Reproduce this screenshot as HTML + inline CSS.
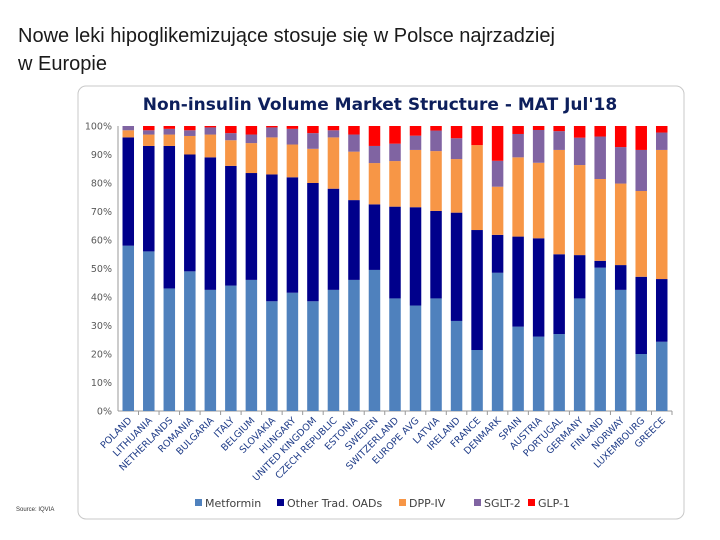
<!DOCTYPE html>
<html><head><meta charset="utf-8">
<style>
body{margin:0;width:720px;height:540px;background:#fff;overflow:hidden;font-family:"Liberation Sans",sans-serif;}
#h{position:absolute;left:18px;top:22px;font-size:20px;line-height:28px;color:#1a1a1a;}
#src{position:absolute;left:16px;top:507px;font-size:6px;color:#333;}
svg{position:absolute;left:0;top:0;}
</style></head><body>
<div id="h">Nowe leki hipoglikemizujące stosuje się w Polsce najrzadziej<br>w Europie</div>
<div id="src">Source: IQVIA</div>
<svg id="c" width="720" height="540">
<rect x="78" y="86" width="606" height="433" rx="8" fill="#fff" stroke="#c8c8c8"/>
<text x="380" y="110" text-anchor="middle" font-size="17" font-weight="bold" fill="#0d1f5c" font-family="DejaVu Sans,sans-serif">Non-insulin Volume Market Structure - MAT Jul'18</text>
</svg>
<script>
const categories=["POLAND","LITHUANIA","NETHERLANDS","ROMANIA","BULGARIA","ITALY","BELGIUM","SLOVAKIA","HUNGARY","UNITED KINGDOM","CZECH REPUBLIC","ESTONIA","SWEDEN","SWITZERLAND","EUROPE AVG","LATVIA","IRELAND","FRANCE","DENMARK","SPAIN","AUSTRIA","PORTUGAL","GERMANY","FINLAND","NORWAY","LUXEMBOURG","GREECE"];
const metformin=[58,56,43,49,42.5,44,46,38.5,41.5,38.5,42.5,46,49.5,39.5,37,39.5,31.6,21.4,48.5,29.6,26.1,27,39.5,50.3,42.5,20,24.3];
const otherOADs=[38,37,50,41,46.5,42,37.5,44.5,40.5,41.5,35.5,28,23,32.2,34.5,30.7,38,42.1,13.3,31.6,34.5,28,15.2,2.4,8.7,27.1,22];
const dppIV=[2.5,4,4,6.5,8,9,10.5,13,11.5,12,18,17,14.5,16,20.1,21,18.8,29.8,16.9,27.8,26.5,36.6,31.6,28.7,28.6,30.1,45.3];
const sglt2=[1.5,1.5,2,2,2.5,2.5,3,3.5,5.5,5.5,2.5,6,6,6.1,5,7.2,7.3,0,9.1,8.2,11.5,6.6,9.6,14.9,12.8,14.4,6.1];
const glp1=[0,1.5,1,1.5,0.5,2.5,3,0.5,1,2.5,1.5,3,7,6.2,3.4,1.6,4.3,6.7,12.2,2.8,1.4,1.8,4.1,3.7,7.4,8.4,2.3];
const seriesNames=["Metformin","Other Trad. OADs","DPP-IV","SGLT-2","GLP-1"];
const yTicks=[0,10,20,30,40,50,60,70,80,90,100];
const colors=["#4f81bd","#00008b","#f79646","#8064a2","#ff0000"];
const NS="http://www.w3.org/2000/svg";
const svg=document.getElementById('c');
const X0=118,X1=672,Y0=411,Y1=126;
const y=v=>Y0-(Y0-Y1)*v/100;
const step=(X1-X0)/categories.length;
const xc=i=>X0+step*(i+0.5);
function mk(t,a){const e=document.createElementNS(NS,t);for(const k in a)e.setAttribute(k,a[k]);svg.appendChild(e);return e;}
yTicks.forEach(t=>{
 const tx=mk('text',{x:112,y:y(t)+3.5,'text-anchor':'end','font-size':9.5,fill:'#595959','font-family':'DejaVu Sans,sans-serif'});
 tx.textContent=t+'%';
 
 
});
const ax=mk('line',{x1:X0,y1:Y1,x2:X0,y2:Y0,stroke:'#999'});


const bx=mk('line',{x1:X0,y1:Y0,x2:X1,y2:Y0,stroke:'#999'});


const series=[metformin,otherOADs,dppIV,sglt2,glp1];
const bw=11.5;
categories.forEach((c,i)=>{
 let acc=0;
 series.forEach((s,k)=>{
  const v=s[i];
  const r=mk('rect',{x:xc(i)-bw/2,y:y(acc+v),width:bw,height:Math.max(0,y(acc)-y(acc+v)),fill:colors[k]});
  
  
  acc+=v;
 });
 const tk=mk('line',{x1:X0+step*(i+1),y1:Y0,x2:X0+step*(i+1),y2:Y0+4,stroke:'#999'});
 
 
 const l=mk('text',{x:xc(i)+4,y:Y0+10,'text-anchor':'end','font-size':9.5,fill:'#1f3c88','font-family':'DejaVu Sans,sans-serif',transform:`rotate(-45 ${xc(i)+4} ${Y0+10})`});
 l.textContent=c;
 
 
});
const lx=[195,277,399,474,528];
seriesNames.forEach((n,k)=>{
 const r=mk('rect',{x:lx[k],y:499,width:7,height:7,fill:colors[k]});
 
 
 const t=mk('text',{x:lx[k]+10,y:507,'font-size':11,fill:'#404040','font-family':'DejaVu Sans,sans-serif'});
 t.textContent=n;
 
 
});
</script>
</body></html>
